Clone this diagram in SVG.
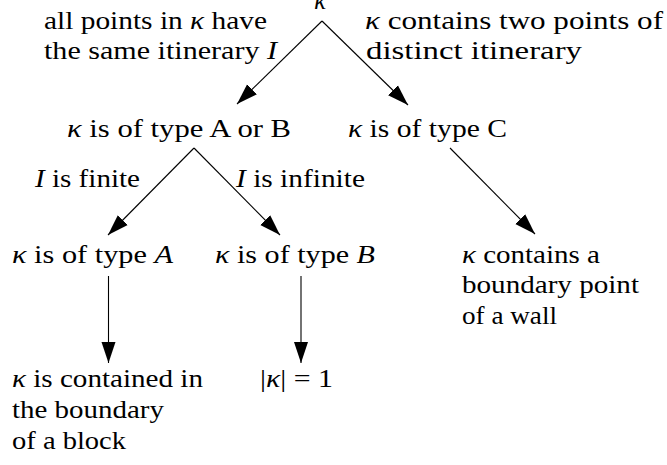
<svg xmlns="http://www.w3.org/2000/svg" width="667" height="465" viewBox="0 0 667 465">
<defs>
<style>
text{font-family:'Liberation Serif','Times New Roman',serif;font-size:25.5px;fill:#000}
.i{font-style:italic}
.c line{stroke:#000;stroke-width:1.1;marker-end:url(#ah)}
</style>
<marker id="ah" markerUnits="userSpaceOnUse" markerWidth="22" markerHeight="16" refX="21" refY="8" orient="auto" viewBox="0 0 22 16">
<path d="M0,1 L21,8 L0,15 z" fill="#000"/>
</marker>
</defs>
<rect width="667" height="465" fill="#fff"/>
<g class="c" id="connectors">
<line x1="322" y1="21" x2="237" y2="104"/>
<line x1="322" y1="21" x2="408" y2="105"/>
<line x1="194" y1="148" x2="108" y2="235"/>
<line x1="194" y1="148" x2="280" y2="235"/>
<line x1="450" y1="148" x2="535" y2="234"/>
<line x1="108.5" y1="276" x2="108.5" y2="363"/>
<line x1="301" y1="276" x2="301" y2="363"/>
</g>
<g id="root"><text x="320" y="9" text-anchor="middle" class="i">κ</text></g>
<g id="label-same"><text x="44" y="29" textLength="223" lengthAdjust="spacingAndGlyphs">all points in <tspan class="i">κ</tspan> have</text>
<text x="44" y="59" textLength="233" lengthAdjust="spacingAndGlyphs">the same itinerary <tspan class="i">I</tspan></text></g>
<g id="label-distinct"><text x="365" y="29" textLength="298" lengthAdjust="spacingAndGlyphs"><tspan class="i">κ</tspan> contains two points of</text>
<text x="366" y="59" textLength="216" lengthAdjust="spacingAndGlyphs">distinct itinerary</text></g>
<g id="typeAB"><text x="67" y="137" textLength="224" lengthAdjust="spacingAndGlyphs"><tspan class="i">κ</tspan> is of type A or B</text></g>
<g id="typeC"><text x="348" y="137" textLength="159" lengthAdjust="spacingAndGlyphs"><tspan class="i">κ</tspan> is of type C</text></g>
<g id="label-finite"><text x="35" y="187" textLength="105" lengthAdjust="spacingAndGlyphs"><tspan class="i">I</tspan> is finite</text></g>
<g id="label-infinite"><text x="236" y="187" textLength="129" lengthAdjust="spacingAndGlyphs"><tspan class="i">I</tspan> is infinite</text></g>
<g id="typeA"><text x="12" y="263" textLength="161" lengthAdjust="spacingAndGlyphs"><tspan class="i">κ</tspan> is of type <tspan class="i">A</tspan></text></g>
<g id="typeB"><text x="215" y="263" textLength="160" lengthAdjust="spacingAndGlyphs"><tspan class="i">κ</tspan> is of type <tspan class="i">B</tspan></text></g>
<g id="wall"><text x="462" y="263" textLength="138" lengthAdjust="spacingAndGlyphs"><tspan class="i">κ</tspan> contains a</text>
<text x="462" y="293" textLength="177" lengthAdjust="spacingAndGlyphs">boundary point</text>
<text x="462" y="324" textLength="95" lengthAdjust="spacingAndGlyphs">of a wall</text></g>
<g id="block"><text x="12" y="387" textLength="191" lengthAdjust="spacingAndGlyphs"><tspan class="i">κ</tspan> is contained in</text>
<text x="12" y="418" textLength="152" lengthAdjust="spacingAndGlyphs">the boundary</text>
<text x="12" y="449" textLength="114" lengthAdjust="spacingAndGlyphs">of a block</text></g>
<g id="single"><text x="260" y="387" textLength="73" lengthAdjust="spacingAndGlyphs">|<tspan class="i">κ</tspan>| = 1</text></g>
</svg>
